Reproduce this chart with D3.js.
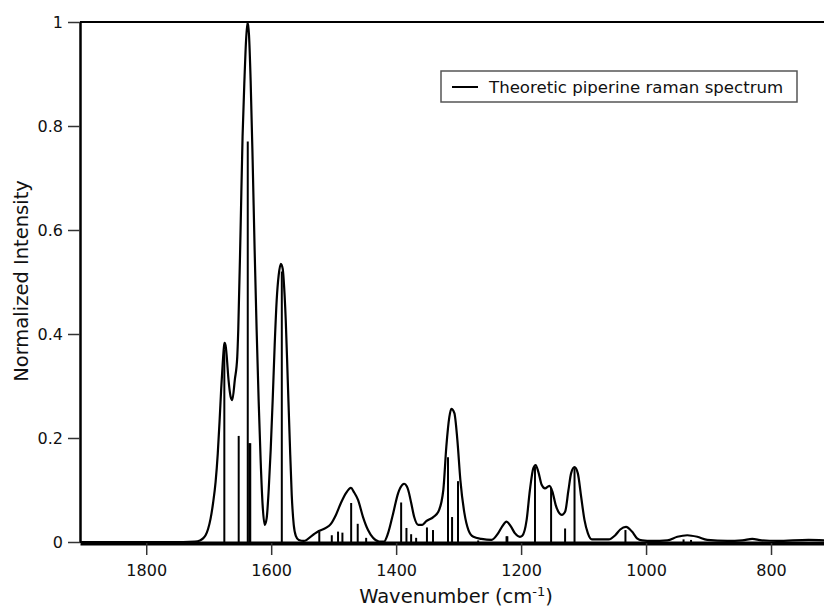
<!DOCTYPE html>
<html>
<head>
<meta charset="utf-8">
<script src="https://cdn.jsdelivr.net/npm/d3@7"></script>
<style>
  html, body { margin: 0; padding: 0; background: #fff; }
  svg { display: block; font-family: "DejaVu Sans", Verdana, sans-serif; }
</style>
</head>
<body>
<svg id="chart" width="824" height="608"></svg>
<script>
// Broadened spectrum (wavenumber, normalized intensity)
const curveWn = [1906,1760,1722,1714,1709,1705,1701,1697,1693,1689,1685.5,1682.5,1680,1677.5,1675.8,1674.7,1673,1671.5,1668.3,1665,1662.3,1658.2,1654.3,1652.7,1649,1645.8,1642.6,1640.2,1637.8,1635.5,1632.9,1629.7,1626.5,1623.3,1620.1,1616.9,1613.7,1610.4,1607.2,1604,1600.8,1597.6,1594.4,1591.2,1588,1584.5,1581.5,1580,1576.7,1573.5,1570.3,1567.1,1563.9,1560.6,1555.8,1547.8,1531.7,1523.7,1512.4,1504.4,1496.4,1488.4,1480.3,1472.3,1467.5,1461,1453,1445,1437,1427.3,1419.3,1412.9,1404.8,1396.8,1390,1387.1,1383,1380.7,1375.9,1371.1,1364.7,1358.2,1351.8,1340.6,1332.5,1324.5,1319.7,1314.9,1311.7,1306.8,1302,1297.2,1290.8,1284.3,1276.3,1263.5,1247.4,1236.6,1230.2,1223.3,1216.4,1210,1201.9,1198.1,1191.2,1185.9,1180.4,1176.7,1172.4,1167.1,1161.8,1154.7,1149.9,1144.6,1138.6,1134.9,1129.6,1124.2,1120,1114.5,1109.2,1103.9,1098.5,1093.2,1086.7,1059.9,1049.3,1041.3,1032.1,1022.5,1014.5,1006.4,990,966,950,934,918,902,870,846,830,815,790,740,712];
const curveInt = [0,0,0.001,0.003,0.007,0.013,0.025,0.045,0.075,0.115,0.17,0.235,0.295,0.345,0.373,0.383,0.378,0.362,0.312,0.28,0.273,0.312,0.356,0.408,0.6,0.78,0.895,0.965,1.0,0.975,0.888,0.735,0.562,0.408,0.273,0.158,0.071,0.033,0.046,0.1,0.177,0.273,0.379,0.465,0.513,0.535,0.525,0.504,0.427,0.312,0.196,0.09,0.033,0.012,0.004,0.002,0.015,0.021,0.027,0.035,0.052,0.075,0.094,0.104,0.096,0.081,0.048,0.023,0.008,0.001,0.001,0.017,0.055,0.094,0.11,0.112,0.107,0.1,0.075,0.048,0.033,0.033,0.04,0.048,0.058,0.1,0.183,0.24,0.256,0.248,0.196,0.119,0.056,0.023,0.01,0.006,0.004,0.017,0.03,0.039,0.03,0.017,0.01,0.012,0.042,0.1,0.142,0.148,0.135,0.11,0.103,0.108,0.097,0.071,0.055,0.052,0.058,0.1,0.132,0.144,0.132,0.087,0.042,0.017,0.005,0.005,0.013,0.024,0.029,0.02,0.007,0.003,0.002,0.003,0.01,0.013,0.01,0.004,0.002,0.003,0.006,0.003,0.002,0.004,0.003];

// Calculated lines (stick spectrum)
const stickWn  = [1675,1652,1637.5,1635,1633.5,1583,1523,1503,1493,1486,1472,1461.5,1448,1392,1383.5,1376,1368,1350.7,1341,1317,1310.5,1301,1268.7,1223.3,1222,1177.8,1152,1129.6,1114.5,1033,940,928];
const stickInt = [0.37,0.204,0.77,0.19,0.19,0.52,0.02,0.013,0.02,0.018,0.075,0.035,0.008,0.076,0.027,0.015,0.008,0.028,0.023,0.163,0.048,0.117,0.003,0.011,0.011,0.145,0.104,0.026,0.142,0.023,0.005,0.004];

const xTicks = [1800,1600,1400,1200,1000,800];
const yTicks = [0,0.2,0.4,0.6,0.8,1];
const legendLabel = "Theoretic piperine raman spectrum";
const xTitle = "Wavenumber (cm";
const xTitleSup = "-1";
const yTitle = "Normalized Intensity";

const svg = d3.select("#chart");
const mLeft = 80, mRight = 826, mTop = 22, mBottom = 542;

const x = d3.scaleLinear().domain([1906, 712]).range([mLeft, mRight]);
const y = d3.scaleLinear().domain([0, 1]).range([mBottom, mTop]);

svg.append("defs").append("clipPath").attr("id", "clip")
  .append("rect").attr("x", mLeft).attr("y", mTop - 3).attr("width", mRight - mLeft).attr("height", mBottom - mTop + 6);

const plot = svg.append("g").attr("clip-path", "url(#clip)");

// sticks
plot.selectAll("line.stick").data(stickWn.map((w, i) => ({w, v: stickInt[i]})))
  .enter().append("line").attr("class", "stick")
  .attr("x1", d => x(d.w)).attr("x2", d => x(d.w))
  .attr("y1", y(0)).attr("y2", d => y(d.v))
  .attr("stroke", "#000").attr("stroke-width", 2);

// curve
const pts = curveWn.map((w, i) => [w, curveInt[i]]);
const line = d3.line().x(d => x(d[0])).y(d => y(d[1])).curve(d3.curveMonotoneX);
plot.append("path").datum(pts).attr("d", line)
  .attr("fill", "none").attr("stroke", "#000").attr("stroke-width", 2.2).attr("stroke-linejoin", "round");

// top frame line
svg.append("line").attr("x1", mLeft).attr("x2", 824).attr("y1", mTop).attr("y2", mTop)
  .attr("stroke", "#000").attr("stroke-width", 2);

// x axis
const xAxis = svg.append("g").attr("transform", `translate(0,${mBottom + 1})`)
  .call(d3.axisBottom(x).tickValues(xTicks).tickSize(12).tickSizeOuter(0).tickPadding(10).tickFormat(d3.format("d")));
xAxis.select(".domain").attr("stroke", "#000").attr("stroke-width", 4);
xAxis.selectAll(".tick line").attr("stroke", "#333").attr("stroke-width", 1.5);
xAxis.selectAll("text").attr("font-size", 16).attr("fill", "#111").attr("font-family", "DejaVu Sans, Verdana, sans-serif");

// y axis
const yAxis = svg.append("g").attr("transform", `translate(${mLeft},0)`)
  .call(d3.axisLeft(y).tickValues(yTicks).tickSize(12).tickSizeOuter(0).tickPadding(5).tickFormat(d3.format("~g")));
yAxis.select(".domain").attr("stroke", "#000").attr("stroke-width", 2.5);
yAxis.selectAll(".tick line").attr("stroke", "#333").attr("stroke-width", 1.5);
yAxis.selectAll("text").attr("font-size", 16).attr("fill", "#111").attr("font-family", "DejaVu Sans, Verdana, sans-serif");

// titles
const xt = svg.append("text").attr("x", 456).attr("y", 603).attr("text-anchor", "middle")
  .attr("font-size", 19.5).attr("fill", "#111");
xt.append("tspan").text(xTitle);
xt.append("tspan").attr("font-size", 13).attr("dy", -7).text(xTitleSup);
xt.append("tspan").attr("dy", 7).text(")");

svg.append("text").attr("transform", "translate(28,281) rotate(-90)").attr("text-anchor", "middle")
  .attr("font-size", 19.5).attr("fill", "#111").text(yTitle);

// legend
const lg = svg.append("g");
lg.append("rect").attr("x", 441).attr("y", 71).attr("width", 356).attr("height", 31)
  .attr("fill", "#fff").attr("stroke", "#555").attr("stroke-width", 1.5);
lg.append("line").attr("x1", 452).attr("x2", 478).attr("y1", 87).attr("y2", 87)
  .attr("stroke", "#000").attr("stroke-width", 2);
lg.append("text").attr("x", 489).attr("y", 93).attr("font-size", 16.6).attr("fill", "#111").text(legendLabel);
</script>
</body>
</html>
